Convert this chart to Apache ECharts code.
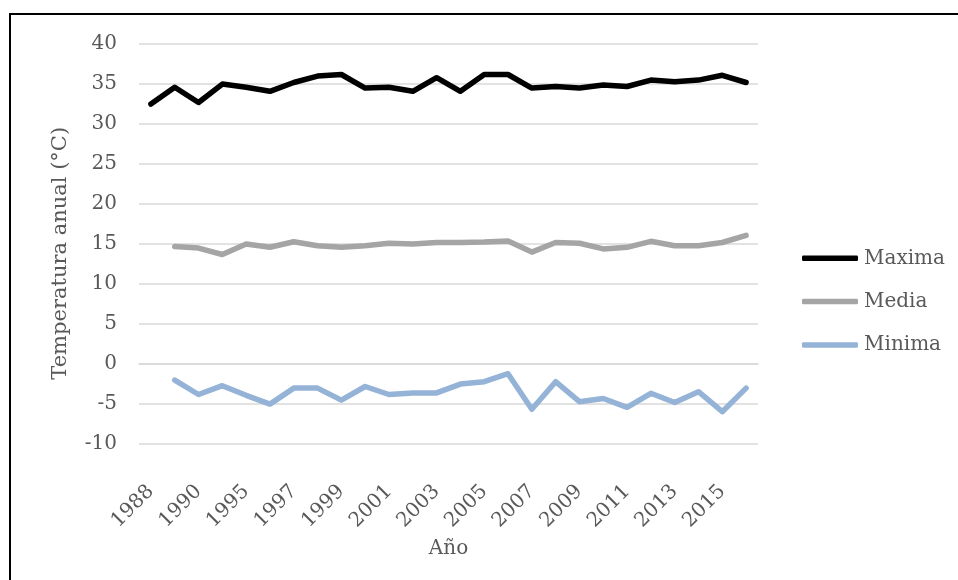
<!DOCTYPE html>
<html>
<head>
<meta charset="utf-8">
<script src="https://cdn.jsdelivr.net/npm/echarts@6/dist/echarts.min.js"></script>
<style>
  html, body { margin: 0; padding: 0; background: #fff; }
  #chart { width: 958px; height: 580px; }
</style>
</head>
<body>
<div id="chart"></div>
<script>
// Años de la serie (las etiquetas se muestran una sí y una no)
const years = ['1988', '1989', '1990', '1994', '1995', '1996', '1997', '1998', '1999', '2000',
  '2001', '2002', '2003', '2004', '2005', '2006', '2007', '2008', '2009', '2010',
  '2011', '2012', '2013', '2014', '2015', '2016'];

// Temperatura máxima anual (°C)
const maxima = [32.4, 34.5, 32.6, 34.9, 34.5, 34.0, 35.1, 35.9, 36.1, 34.4,
  34.5, 34.0, 35.7, 34.0, 36.1, 36.1, 34.4, 34.6, 34.4, 34.8,
  34.6, 35.4, 35.2, 35.4, 36.0, 35.1];

// Temperatura media anual (°C)
const media = [null, 14.6, 14.4, 13.6, 14.9, 14.5, 15.2, 14.7, 14.5, 14.7,
  15.0, 14.9, 15.1, 15.1, 15.15, 15.3, 13.9, 15.1, 15.0, 14.3,
  14.5, 15.25, 14.7, 14.7, 15.1, 16.0];

// Temperatura mínima anual (°C)
const minima = [null, -2.1, -3.9, -2.8, -4.0, -5.1, -3.1, -3.1, -4.6, -2.9,
  -3.9, -3.7, -3.7, -2.6, -2.3, -1.3, -5.75, -2.3, -4.8, -4.4,
  -5.5, -3.75, -4.9, -3.55, -6.05, -3.1];

const FONT = '"DejaVu Serif", "Liberation Serif", serif';
const TEXT = '#595959';

function lineSeries(name, data, color) {
  return {
    name: name,
    type: 'line',
    data: data,
    symbol: 'none',
    showSymbol: false,
    connectNulls: false,
    lineStyle: { color: color, width: 5.5, cap: 'round', join: 'round' },
    itemStyle: { color: color },
    emphasis: { disabled: true }
  };
}

const chart = echarts.init(document.getElementById('chart'), null, { renderer: 'canvas' });
chart.setOption({
  animation: false,
  backgroundColor: '#ffffff',
  textStyle: { fontFamily: FONT, color: TEXT },
  graphic: [{
    type: 'rect',
    shape: { x: 10, y: 14, width: 960, height: 580 },
    style: { fill: 'none', stroke: '#000000', lineWidth: 2 },
    silent: true
  }],
  grid: { left: 139, right: 200, top: 43.3, bottom: 136.7, containLabel: false },
  legend: {
    orient: 'vertical',
    left: 802,
    top: 248.3,
    padding: 0,
    itemWidth: 56,
    itemHeight: 5.5,
    itemGap: 23.3,
    textStyle: { fontFamily: FONT, fontSize: 20, lineHeight: 20, color: TEXT, padding: [0, 0, 0, 1] },
    data: [
      { name: 'Maxima', icon: 'roundRect' },
      { name: 'Media', icon: 'roundRect' },
      { name: 'Minima', icon: 'roundRect' }
    ]
  },
  xAxis: {
    type: 'category',
    data: years,
    boundaryGap: true,
    name: 'Año',
    nameLocation: 'middle',
    nameGap: 92,
    nameTextStyle: { fontFamily: FONT, fontSize: 20, color: TEXT },
    axisLine: { show: true, lineStyle: { color: '#d9d9d9', width: 1.5 } },
    axisTick: { show: false },
    axisLabel: {
      interval: 1,
      rotate: 45,
      margin: 45,
      fontFamily: FONT,
      fontSize: 20,
      color: TEXT
    },
    splitLine: { show: false }
  },
  yAxis: {
    type: 'value',
    min: -10,
    max: 40,
    interval: 5,
    name: 'Temperatura anual (°C)',
    nameLocation: 'middle',
    nameGap: 68,
    nameTextStyle: { fontFamily: FONT, fontSize: 21, color: TEXT, padding: [0, 20, 0, 0] },
    axisLine: { show: false },
    axisTick: { show: false },
    axisLabel: { margin: 22, fontFamily: FONT, fontSize: 20, color: TEXT },
    splitLine: { show: true, lineStyle: { color: '#d9d9d9', width: 1.5 } }
  },
  series: [
    lineSeries('Maxima', maxima, '#000000'),
    lineSeries('Media', media, '#a5a5a5'),
    lineSeries('Minima', minima, '#95b3d7')
  ]
});
</script>
</body>
</html>
